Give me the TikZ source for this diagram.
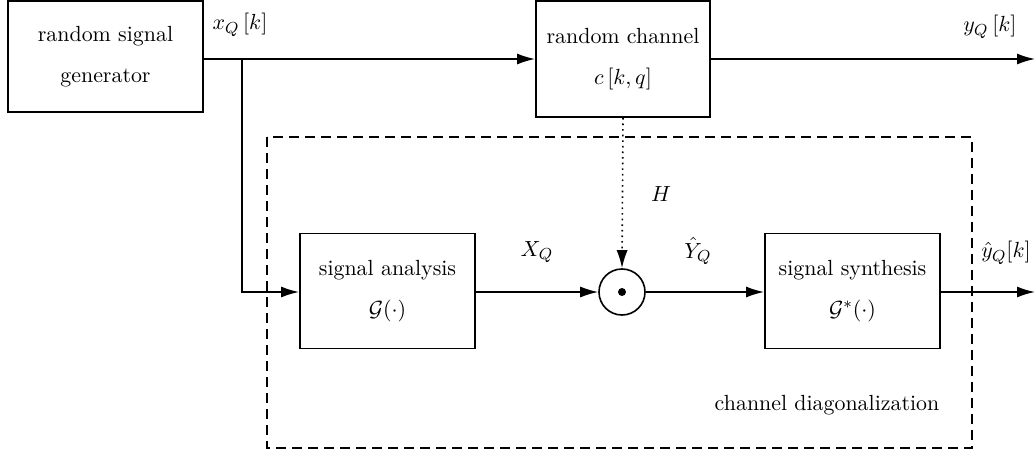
\documentclass[tikz,border=0pt]{standalone}
\usetikzlibrary{arrows.meta}
\tikzset{
  blk/.style={draw, line width=0.9pt, align=center, inner sep=0pt},
  lbl/.style={inner sep=0pt},
  arr/.style={line width=0.8pt, -{Latex[length=9pt,width=5.5pt]}},
  ln/.style={line width=0.8pt},
}
\begin{document}
\begin{tikzpicture}[x=0.5pt,y=-0.5pt, font=\fontsize{10.95}{13.6}\selectfont]
\useasboundingbox (0,0) rectangle (1035,455);
\node[blk, minimum width=97.5pt, minimum height=55.5pt] (gen) at (105.5,56.5) {random signal\\[7pt]generator};
\node[blk, minimum width=87pt, minimum height=58pt] (chan) at (623,59) {random channel\\[7pt]$c\left[k,q\right]$};
\node[blk, minimum width=87.5pt, minimum height=57.5pt] (ana) at (387.5,291) {signal analysis\\[7pt]$\mathcal{G}(\cdot)$};
\node[blk, minimum width=87.5pt, minimum height=57.5pt] (syn) at (852.5,291) {signal synthesis\\[7pt]$\mathcal{G}^{*}(\cdot)$};
\node[draw, line width=0.8pt, circle, minimum size=23pt, inner sep=0pt] (circ) at (622,292) {};
\fill (circ.center) circle (4);
\draw[dashed, dash pattern=on 5pt off 3pt, line width=0.7pt] (267,137) rectangle (972,448);
\coordinate (br) at (242,59);
\coordinate (out1) at (1035,59);
\coordinate (out2) at (1035,292);
\draw[ln] (gen.east |- chan.west) -- (br);
\draw[arr] (br) -- (chan.west);
\draw[arr] (br) |- (ana.west |- circ.west);
\draw[arr] (chan.east) -- (out1);
\draw[arr] (ana.east |- circ.west) -- (circ.west);
\draw[arr] (circ.east) -- (syn.west |- circ.east);
\draw[arr] (syn.east |- circ.east) -- (out2);
\draw[line width=0.8pt, dotted, -{Latex[length=9pt,width=5.5pt]}] (chan.south) -- (circ.north);
\node[lbl] (lx) at (240,25) {$x_Q\left[k\right]$};
\node[lbl] (ly) at (990,27) {$y_Q\left[k\right]$};
\node[lbl] (lh) at (661,194) {$H$};
\node[lbl] (lX) at (537,252) {$X_Q$};
\node[lbl] (lY) at (698,251) {$\hat{Y}_Q$};
\node[lbl] (lyh) at (1006,253) {$\hat{y}_Q[k]$};
\node[lbl] (ld) at (827,405) {channel diagonalization};
\end{tikzpicture}
\end{document}
